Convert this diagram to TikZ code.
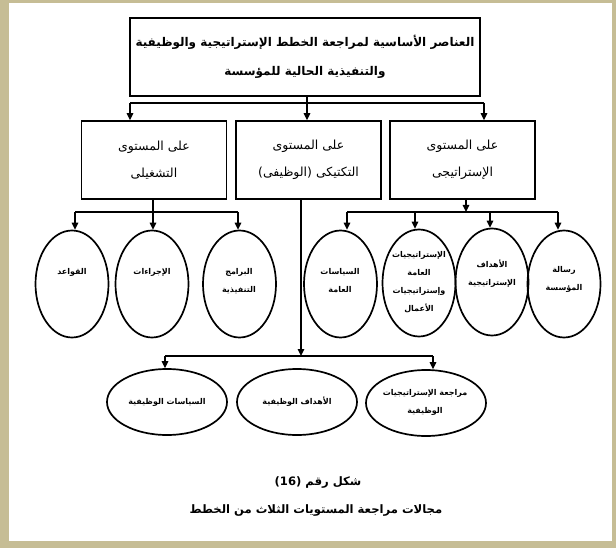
\documentclass[tikz,border=0pt]{standalone}
\usepackage{fontspec}
\usetikzlibrary{arrows.meta,shapes.geometric}
\TeXXeTstate=1
\newfontfamily\arabicfont[Script=Arabic]{DejaVu Sans}
\definecolor{framecol}{HTML}{C6BD95}
\newcommand\myR[1]{\beginR#1\endR}
\begin{document}
\begin{tikzpicture}[x=1pt,y=-1pt,
  topbox/.style={draw, line width=1.7pt, minimum width=350pt, minimum height=78pt, inner sep=0pt, align=center, font=\arabicfont\bfseries\fontsize{12}{29}\selectfont},
  lvlbox/.style={draw, line width=1.7pt, minimum width=145pt, minimum height=78pt, inner sep=0pt, align=center, font=\arabicfont\fontsize{12.5}{27}\selectfont},
  ell/.style={draw, ellipse, line width=1.7pt, minimum width=73pt, minimum height=107pt, inner sep=0pt},
  bell/.style={draw, ellipse, line width=1.7pt, minimum width=120pt, minimum height=66pt, inner sep=0pt},
  etext/.style={align=center, inner sep=0pt, font=\arabicfont\bfseries\fontsize{8}{18}\selectfont},
  captext/.style={inner sep=0pt, font=\arabicfont\bfseries\fontsize{11.6}{14}\selectfont},
  conn/.style={line width=1.3pt},
  arr/.style={line width=1.3pt, -{Triangle[length=7pt,width=6.5pt]}}
]
\useasboundingbox (0,0) rectangle (616,548);
\fill[framecol] (0,0) rectangle (616,548);
\fill[white] (9,3) rectangle (612,541);

% boxes
\node[topbox] (top) at (305,57) {\myR{العناصر الأساسية لمراجعة الخطط الإستراتيجية والوظيفية}\\ \myR{والتنفيذية الحالية للمؤسسة}};
\node[lvlbox] (L) at (154,160) {\myR{على المستوى}\\ \myR{التشغيلى}};
\node[lvlbox] (M) at (308.5,160) {\myR{على المستوى}\\ \myR{التكتيكى (الوظيفى)}};
\node[lvlbox] (R) at (462.5,160) {\myR{على المستوى}\\ \myR{الإستراتيجى}};

% middle ellipses
\node[ell] (e1) at (72,284) {};
\node[ell] (e2) at (152,284) {};
\node[ell] (e3) at (239.5,284) {};
\node[ell] (e4) at (340.5,284) {};
\node[ell] (e5) at (419,283) {};
\node[ell] (e6) at (492,282) {};
\node[ell] (e7) at (564,284) {};
\node[etext] (e1t) at (72,272) {\myR{القواعد}};
\node[etext] (e2t) at (152,272) {\myR{الإجراءات}};
\node[etext] (e3t) at (239,281) {\myR{البرامج}\\ \myR{التنفيذية}};
\node[etext] (e4t) at (340,281) {\myR{السياسات}\\ \myR{العامة}};
\node[etext] (e5t) at (419,282) {\myR{الإستراتيجيات}\\ \myR{العامة}\\ \myR{وإستراتيجيات}\\ \myR{الأعمال}};
\node[etext] (e6t) at (492,274) {\myR{الأهداف}\\ \myR{الإستراتيجية}};
\node[etext] (e7t) at (564,279) {\myR{رسالة}\\ \myR{المؤسسة}};

% bottom ellipses
\node[bell] (b1) at (167,402) {};
\node[bell] (b2) at (297,402) {};
\node[bell] (b3) at (426,403) {};
\node[etext] (b1t) at (167,402) {\myR{السياسات الوظيفية}};
\node[etext] (b2t) at (297,402) {\myR{الأهداف الوظيفية}};
\node[etext] (b3t) at (425,402) {\myR{مراجعة الإستراتيجيات}\\ \myR{الوظيفية}};

% caption
\node[captext] (cap1) at (318,483) {\myR{شكل رقم \beginL(16)\endL}};
\node[captext] (cap2) at (316,511) {\myR{مجالات مراجعة المستويات الثلاث من الخطط}};

% top connectors
\coordinate (t0) at (307,103);
\coordinate (tL) at (130,103);
\coordinate (tR) at (484,103);
\draw[conn] (top.south -| t0) -- (t0);
\draw[conn] (tL) -- (tR);
\draw[arr] (t0) -- (t0 |- M.north);
\draw[arr] (tL) -- (tL |- L.north);
\draw[arr] (tR) -- (tR |- R.north);

% left group
\coordinate (l0) at (153,212);
\coordinate (l1) at (75,212);
\coordinate (l3) at (238,212);
\draw[conn] (L.south -| l0) -- (l0);
\draw[conn] (l1) -- (l3);
\draw[arr] (l1) -- (l1 |- e1.north);
\draw[arr] (l0) -- (l0 |- e2.north);
\draw[arr] (l3) -- (l3 |- e3.north);

% right group
\coordinate (r0) at (466,212);
\coordinate (r1) at (347,212);
\coordinate (r2) at (415,212);
\coordinate (r3) at (490,212);
\coordinate (r4) at (558,212);
\draw[arr] (R.south -| r0) -- (r0);
\draw[conn] (r1) -- (r4);
\draw[arr] (r1) -- (r1 |- e4.north);
\draw[arr] (r2) -- (r2 |- e5.north);
\draw[arr] (r3) -- (r3 |- e6.north);
\draw[arr] (r4) -- (r4 |- e7.north);

% middle (functional) group
\coordinate (m0) at (301,356);
\coordinate (m1) at (165,356);
\coordinate (m2) at (433,356);
\draw[arr] (M.south -| m0) -- (m0);
\draw[conn] (m1) -- (m2);
\draw[arr] (m1) -- (m1 |- b1.north);
\draw[arr] (m2) -- (m2 |- b3.north);
\end{tikzpicture}
\end{document}
